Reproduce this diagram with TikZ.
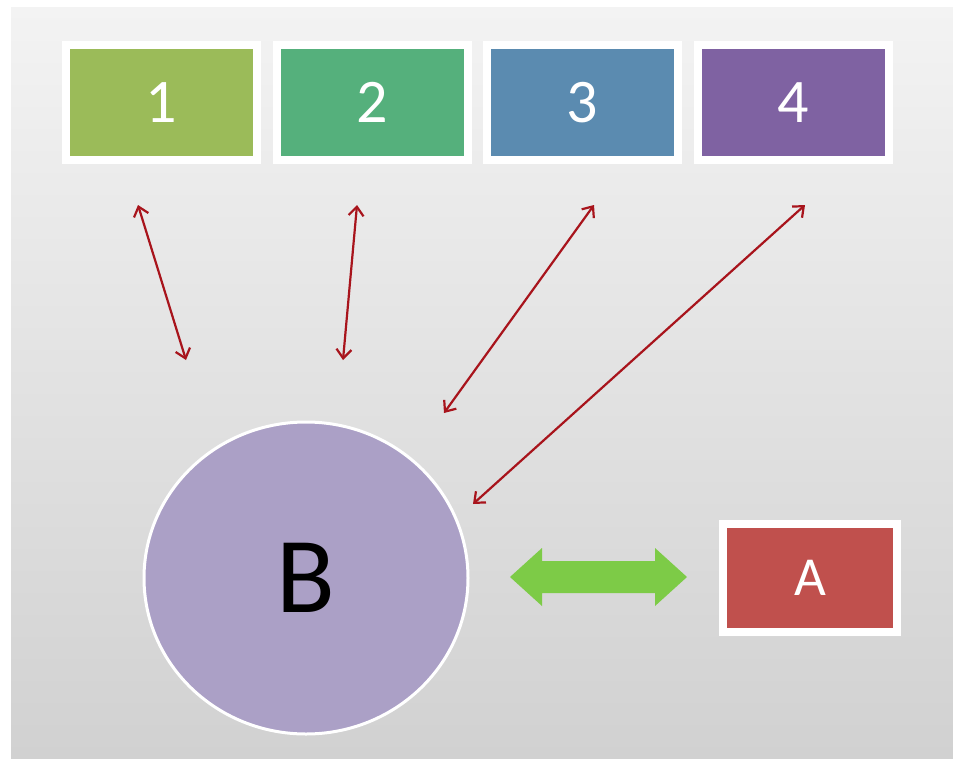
\documentclass[tikz,border=0pt]{standalone}
\usepackage{fontspec}
\setmainfont{Carlito}
\usetikzlibrary{arrows.meta}
\definecolor{bgtop}{HTML}{F3F3F3}
\definecolor{bgbot}{HTML}{D1D1D1}
\definecolor{cone}{HTML}{9BBB59}
\definecolor{ctwo}{HTML}{55B07C}
\definecolor{cthree}{HTML}{5B8BB0}
\definecolor{cfour}{HTML}{7F62A2}
\definecolor{ca}{HTML}{C0504D}
\definecolor{cb}{HTML}{ABA0C6}
\definecolor{cgreen}{HTML}{7DCB47}
\definecolor{cred}{HTML}{A8141C}
\begin{document}
\begin{tikzpicture}[x=1pt,y=-1pt,
  topbox/.style={draw=white, line width=8pt, minimum width=191pt, minimum height=115pt,
    inner sep=0pt, text=white, font=\fontsize{62}{62}\selectfont},
  abox/.style={draw=white, line width=8pt, minimum width=174pt, minimum height=108pt,
    inner sep=0pt, text=white, font=\fontsize{55}{55}\selectfont},
  redarrow/.style={draw=cred, line width=2.2pt, {Straight Barb[length=9pt,width=15pt]}-{Straight Barb[length=9pt,width=15pt]}}]
\fill[white] (0,0) rectangle (953,758);
\useasboundingbox (0,0) rectangle (953,758);
\shade[top color=bgtop, bottom color=bgbot] (11,7) rectangle (953,758);
% top boxes
\node[topbox, fill=cone]   (n1) at (161.5,102.5) {1};
\node[topbox, fill=ctwo]   (n2) at (372,102.5) {2};
\node[topbox, fill=cthree] (n3) at (582.5,102.5) {3};
\node[topbox, fill=cfour]  (n4) at (793.5,102.5) {4};
% circle B
\fill[cb, draw=white, line width=3pt] (306,578) ellipse [x radius=162pt, y radius=156pt];
\node[font=\fontsize{108}{108}\selectfont, text=black] (b) at (306,578) {B};
% box A
\node[abox, fill=ca] (a) at (810,578) {A};
% red connectors
\coordinate (t1) at (138,205); \coordinate (e1) at (186,360);
\coordinate (t2) at (357,205); \coordinate (e2) at (343,360);
\coordinate (t3) at (594,205); \coordinate (e3) at (444,413);
\coordinate (t4) at (805,205); \coordinate (e4) at (473,504);
\draw[redarrow] (t1) -- (e1);
\draw[redarrow] (t2) -- (e2);
\draw[redarrow] (t3) -- (e3);
\draw[redarrow] (t4) -- (e4);
% green double arrow
\fill[cgreen] (510,577) -- (542,548) -- (542,561) -- (655,561) -- (655,548) -- (687,577)
  -- (655,606) -- (655,593) -- (542,593) -- (542,606) -- cycle;
\end{tikzpicture}
\end{document}
